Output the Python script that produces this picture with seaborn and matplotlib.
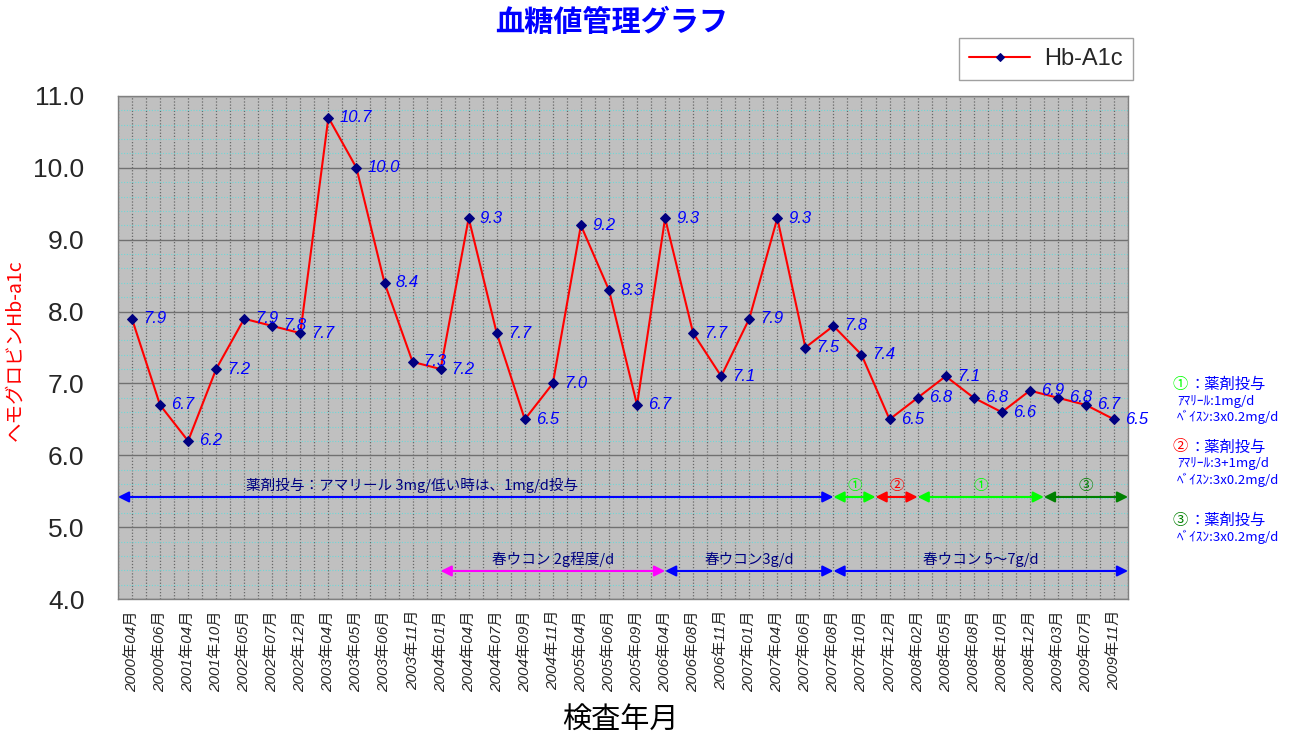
import numpy as np
import pandas as pd
import seaborn as sns
import matplotlib.pyplot as plt
from matplotlib.ticker import MultipleLocator

# 検査データ (Hb-A1c)
months = ['2000年04月', '2000年06月', '2001年04月', '2001年10月', '2002年05月', '2002年07月',
          '2002年12月', '2003年04月', '2003年05月', '2003年06月', '2003年11月', '2004年01月',
          '2004年04月', '2004年07月', '2004年09月', '2004年11月', '2005年04月', '2005年06月',
          '2005年09月', '2006年04月', '2006年08月', '2006年11月', '2007年01月', '2007年04月',
          '2007年06月', '2007年08月', '2007年10月', '2007年12月', '2008年02月', '2008年05月',
          '2008年08月', '2008年10月', '2008年12月', '2009年03月', '2009年07月', '2009年11月']
hba1c = [7.9, 6.7, 6.2, 7.2, 7.9, 7.8,
         7.7, 10.7, 10.0, 8.4, 7.3, 7.2,
         9.3, 7.7, 6.5, 7.0, 9.2, 8.3,
         6.7, 9.3, 7.7, 7.1, 7.9, 9.3,
         7.5, 7.8, 7.4, 6.5, 6.8, 7.1,
         6.8, 6.6, 6.9, 6.8, 6.7, 6.5]

df = pd.DataFrame({'検査年月': months, 'Hb-A1c': hba1c})
idx = {m: i for i, m in enumerate(months)}

sns.set_theme(style='white')
plt.rcParams['font.family'] = ['Liberation Sans', 'Noto Sans CJK JP']
JP = ['Noto Sans CJK JP', 'DejaVu Sans']

fig = plt.figure(figsize=(12.99, 7.43), dpi=100)
ax = fig.add_axes([0.0908, 0.1938, 0.7776, 0.677])
ax.set_facecolor('#C0C0C0')

sns.lineplot(data=df, x='検査年月', y='Hb-A1c', ax=ax, color='red', lw=1.5,
             marker='D', markersize=5, markerfacecolor='navy', markeredgecolor='navy',
             label='Hb-A1c', sort=False, zorder=5)

# 値ラベル
for i, v in enumerate(hba1c):
    ax.annotate(f'{v:.1f}', (i, v), xytext=(8, 0), textcoords='offset points',
                color='blue', style='italic', fontsize=12, va='center', ha='left',
                annotation_clip=False, zorder=6)

ax.set_xlim(-0.5, len(months) - 0.5)
ax.set_ylim(4, 11)
ax.yaxis.set_major_locator(MultipleLocator(1))
ax.yaxis.set_minor_locator(MultipleLocator(0.2))
ax.xaxis.set_minor_locator(MultipleLocator(0.5))
ax.set_yticklabels([f'{t:.1f}' for t in ax.get_yticks()])

ax.grid(axis='x', which='both', color='#686868', ls=(0, (1, 1.5)), lw=0.9)
ax.grid(axis='y', which='minor', color='#6FD8D8', ls=(0, (1, 1.5)), lw=0.8)
ax.grid(axis='y', which='major', color='#707070', ls='-', lw=1)
ax.set_axisbelow(True)

ax.tick_params(axis='y', which='both', length=0, labelsize=19, pad=24)
ax.tick_params(axis='x', which='both', length=0, pad=8)
for lab in ax.get_xticklabels():
    lab.set_rotation(90)
    lab.set_fontstyle('italic')
    lab.set_fontsize(11)
    lab.set_va('top')
for s in ax.spines.values():
    s.set_color('#808080')
    s.set_linewidth(1)
ax.set_xlabel('')
ax.set_ylabel('')

# 投薬期間の矢印
y_top, y_bot = 5.42, 4.39
d_start = idx['2007年08月']
spans_top = [(-0.5, d_start, 'blue', '薬剤投与：アマリール 3mg/低い時は、1mg/d投与', 10, 'navy'),
             (d_start, d_start + 1.5, '#00FF00', '①', None, '#00FF00'),
             (d_start + 1.5, d_start + 3, 'red', '②', None, 'red'),
             (d_start + 3, d_start + 7.5, '#00FF00', '①', None, '#00FF00'),
             (d_start + 7.5, len(months) - 0.5, 'green', '③', None, 'green')]
spans_bot = [(idx['2004年01月'], idx['2006年04月'], 'magenta', '春ウコン 2g程度/d'),
             (idx['2006年04月'], d_start, 'blue', '春ウコン3g/d'),
             (d_start, len(months) - 0.5, 'blue', '春ウコン 5～7g/d')]

for x0, x1, c, txt, tx, tc in spans_top:
    ax.annotate('', xy=(x1, y_top), xytext=(x0, y_top), annotation_clip=False,
                arrowprops=dict(arrowstyle='<|-|>', color=c, lw=1.5, mutation_scale=16,
                                shrinkA=0, shrinkB=0))
    ax.text((x0 + x1) / 2 if tx is None else tx, y_top + 0.06, txt, ha='center',
            va='bottom', color=tc, fontsize=10.5, family=JP)

for x0, x1, c, txt in spans_bot:
    ax.annotate('', xy=(x1, y_bot), xytext=(x0, y_bot), annotation_clip=False,
                arrowprops=dict(arrowstyle='<|-|>', color=c, lw=1.5, mutation_scale=16,
                                shrinkA=0, shrinkB=0))
    ax.text((x0 + x1) / 2, y_bot + 0.06, txt, ha='center', va='bottom',
            color='navy', fontsize=10.5, family=JP)

# 右側の注記
notes = [('①', '#00FF00', ['ｱﾏﾘｰﾙ:1mg/d', 'ﾍﾞｲｽﾝ:3x0.2mg/d'], 384),
         ('②', 'red', ['ｱﾏﾘｰﾙ:3+1mg/d', 'ﾍﾞｲｽﾝ:3x0.2mg/d'], 447),
         ('③', 'green', ['ﾍﾞｲｽﾝ:3x0.2mg/d'], 520)]
W, H = 1299, 743
for num, c, lines, ypx in notes:
    fig.text(1172 / W, 1 - ypx / H, num, color=c, fontsize=11, va='center', family=JP)
    fig.text(1190 / W, 1 - ypx / H, '：薬剤投与', color='blue', fontsize=11, va='center', family=JP)
    for k, ln in enumerate(lines):
        fig.text(1177 / W, 1 - (ypx + 17 + 16 * k) / H, ln, color='blue', fontsize=9.5,
                 va='center', family=JP)

fig.text(612 / W, 1 - 22 / H, '血糖値管理グラフ', color='blue', fontsize=21,
         fontweight='bold', ha='center', va='center', family=JP)
fig.text(620 / W, 1 - 720 / H, '検査年月', color='black', fontsize=21,
         ha='center', va='center', family=JP)
fig.text(15 / W, 1 - 350 / H, 'ヘモグロビンHb-a1c', color='red', fontsize=14,
         rotation=90, ha='center', va='center', family=JP)

handles, labels = ax.get_legend_handles_labels()
ax.get_legend().remove()
fig.legend(handles, labels, loc='upper right', bbox_to_anchor=(1133 / W, 1 - 38 / H),
           borderaxespad=0, fancybox=False, edgecolor='#A0A0A0', framealpha=1, fontsize=17,
           handlelength=2.6, handletextpad=0.6, borderpad=0.42, markerscale=0.8)

fig.savefig('out.png', dpi=100)
